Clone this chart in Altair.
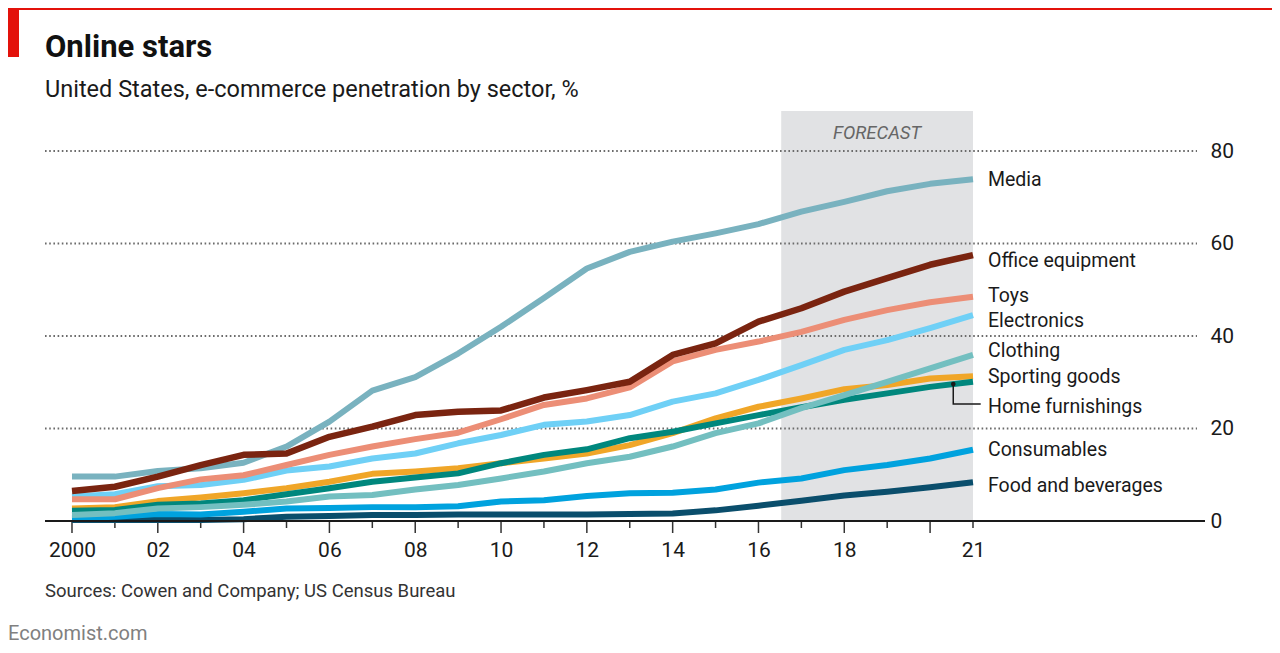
import altair as alt
import pandas as pd

# ---------------- data ----------------
years = list(range(2000, 2022))

media = [9.6, 9.6, 10.8, 11.4, 12.6, 16.1, 21.5, 28.2, 31.1, 36.2, 42.0, 48.2, 54.6, 58.2,
         60.4, 62.2, 64.2, 66.9, 69.0, 71.3, 72.9, 73.9]
office_equipment = [6.5, 7.4, 9.6, 12.1, 14.3, 14.6, 18.2, 20.4, 22.9, 23.6, 23.9, 26.7, 28.3,
                    30.1, 35.9, 38.4, 43.1, 46.0, 49.6, 52.5, 55.4, 57.5]
toys = [4.7, 4.7, 7.1, 9.0, 9.9, 12.1, 14.3, 16.1, 17.7, 19.1, 22.0, 25.1, 26.5, 28.9, 34.5,
        37.0, 38.8, 40.9, 43.5, 45.6, 47.3, 48.5]
electronics = [5.3, 5.8, 7.5, 7.8, 8.9, 10.9, 11.8, 13.5, 14.6, 16.8, 18.6, 20.8, 21.5, 22.9,
               25.8, 27.6, 30.5, 33.7, 37.0, 39.1, 41.7, 44.5]
clothing = [1.3, 1.7, 2.7, 3.0, 3.5, 4.2, 5.3, 5.6, 6.8, 7.8, 9.2, 10.7, 12.5, 13.9, 16.1,
            19.0, 21.1, 24.4, 27.2, 30.1, 33.0, 35.9]
sporting_goods = [2.7, 3.0, 4.3, 5.1, 6.0, 7.1, 8.5, 10.2, 10.7, 11.4, 12.5, 13.5, 14.6, 16.4,
                  19.0, 22.2, 24.7, 26.5, 28.5, 29.4, 30.8, 31.3]
home_furnishings = [2.2, 2.4, 3.5, 3.8, 4.5, 5.8, 7.1, 8.5, 9.4, 10.3, 12.5, 14.3, 15.5, 17.9,
                    19.3, 21.1, 22.9, 24.6, 26.2, 27.6, 29.0, 30.1]
consumables = [0.6, 0.9, 1.5, 1.4, 2.0, 2.7, 2.8, 3.0, 3.0, 3.2, 4.2, 4.5, 5.4, 6.0, 6.1, 6.8,
               8.3, 9.2, 11.0, 12.1, 13.5, 15.4]
food_and_beverages = [0.2, 0.2, 0.2, 0.2, 0.4, 0.9, 1.1, 1.3, 1.3, 1.4, 1.4, 1.4, 1.4, 1.5, 1.6,
                      2.3, 3.3, 4.4, 5.5, 6.3, 7.3, 8.4]

series_names = ["Media", "Office equipment", "Toys", "Electronics", "Clothing",
                "Sporting goods", "Home furnishings", "Consumables", "Food and beverages"]
series_values = [media, office_equipment, toys, electronics, clothing, sporting_goods,
                 home_furnishings, consumables, food_and_beverages]
series_colors = ["#79b2bf", "#7a2410", "#ec8e76", "#6fd0f6", "#73bfc0", "#f0a628",
                 "#00877d", "#00a2de", "#0a4e6c"]
label_y = [72.4, 55.0, 47.4, 41.9, 35.4, 29.9, 23.3, 14.05, 6.35]
draw_order = ["Food and beverages", "Consumables", "Sporting goods", "Home furnishings",
              "Clothing", "Electronics", "Toys", "Media", "Office equipment"]

forecast_start = [2016.53]
forecast_end = [2021]

grid_values = [20, 40, 60, 80]
y_tick_values = [0, 20, 40, 60, 80]

leader_x = [2020.54, 2020.54, 2021.18]
leader_y = [29.6, 25.3, 25.3]

# ---------------- layout ----------------
W, H = 1152, 410
FONT = "Roboto"
x_scale = alt.Scale(domain=[1999.371, 2026.221], nice=False, zero=False)
y_scale = alt.Scale(domain=[0, 88.65], nice=False, zero=False)

x_axis = alt.Axis(values=years, title=None, grid=False, domain=False, ticks=False, tickSize=0,
                  labelFont=FONT, labelFontSize=21, labelColor="#1a1a1a", labelPadding=18,
                  labelOverlap=False, labelFlush=False, labelBound=False,
                  labelExpr="datum.value == 2000 ? '2000' : (datum.value == 2021 ? '21' : ((datum.value % 2 == 0 && datum.value != 2020) ? substring(toString(datum.value), 2) : ''))")
y_axis = alt.Axis(values=y_tick_values, orient="right", title=None, grid=False, domain=False,
                  ticks=False, tickSize=0, labelFont=FONT, labelFontSize=21,
                  labelColor="#1a1a1a", labelPadding=13, labelAlign="left",
                  labelBaseline="middle", labelBound=False, labelFlush=False)


def X(field):
    return alt.X(field, scale=x_scale, axis=x_axis)


def Y(field):
    return alt.Y(field, scale=y_scale, axis=y_axis)


long_rows = []
for name, vals in zip(series_names, series_values):
    for yr, v in zip(years, vals):
        long_rows.append({"year": yr, "value": v, "series": name})
df = pd.DataFrame(long_rows)
color_of = dict(zip(series_names, series_colors))

layers = []

# forecast band
fc_df = pd.DataFrame({"start": forecast_start, "end": forecast_end})
band = alt.Chart(fc_df).mark_rect(color="#e1e2e4").encode(
    x=X("start:Q"), x2="end:Q", y=alt.value(0), y2=alt.value(H))
layers.append(band)

forecast_txt = alt.Chart(fc_df).transform_calculate(
    mid="(datum.start + datum.end) / 2").mark_text(
    text="FORECAST", font=FONT, fontSize=18.5, fontStyle="italic", color="#666666",
    align="center", baseline="alphabetic").encode(x=X("mid:Q"), y=alt.value(28))
layers.append(forecast_txt)

# dotted gridlines
grid = alt.Chart(pd.DataFrame({"v": grid_values})).mark_rule(
    color="#6b6b6b", strokeWidth=2, strokeDash=[1.6, 2.6]).encode(
    y=Y("v:Q"), x=alt.value(0), x2=alt.value(W))
layers.append(grid)

# x ticks (long on even years, short on odd years)
tick_df = pd.DataFrame({"year": years})
ticks_even = alt.Chart(tick_df).transform_filter("datum.year % 2 == 0").mark_rule(
    color="#333333", strokeWidth=1.5).encode(
    x=X("year:Q"), y=alt.value(H), y2=alt.value(H + 12))
ticks_odd = alt.Chart(tick_df).transform_filter("datum.year % 2 == 1").mark_rule(
    color="#333333", strokeWidth=1.5).encode(
    x=X("year:Q"), y=alt.value(H), y2=alt.value(H + 7))
layers += [ticks_even, ticks_odd]

# lines
for name in draw_order:
    ln = alt.Chart(df).transform_filter(alt.datum.series == name).mark_line(
        color=color_of[name], strokeWidth=6.5 if name == "Office equipment" else 6,
        strokeJoin="round", strokeCap="butt").encode(x=X("year:Q"), y=Y("value:Q"))
    layers.append(ln)

# zero baseline
zero = alt.Chart(pd.DataFrame({"v": [0]})).mark_rule(color="#1a1a1a", strokeWidth=2).encode(
    y=Y("v:Q"), x=alt.value(0), x2=alt.value(W + 8))
layers.append(zero)

# leader for Home furnishings
leader_df = pd.DataFrame({"x": leader_x, "y": leader_y, "o": [0, 1, 2]})
leader = alt.Chart(leader_df).mark_line(color="#1a1a1a", strokeWidth=1.5).encode(
    x=X("x:Q"), y=Y("y:Q"), order="o:O")
leader_dot = alt.Chart(leader_df.iloc[[0]]).mark_circle(color="#1a1a1a", size=22, opacity=1).encode(
    x=X("x:Q"), y=Y("y:Q"))
layers += [leader, leader_dot]

# series labels
lab_df = pd.DataFrame({"series": series_names, "ly": label_y, "lx": [years[-1]] * len(series_names)})
labels = alt.Chart(lab_df).mark_text(font=FONT, fontSize=19.5, color="#1a1a1a", align="left",
                                     baseline="alphabetic", dx=15).encode(
    x=X("lx:Q"), y=Y("ly:Q"), text="series:N")
layers.append(labels)

# titles and furniture
one = pd.DataFrame({"k": [0]})
red_line = alt.Chart(one).mark_rect(color="#e3120b").encode(
    x=alt.value(-37), x2=alt.value(1227), y=alt.value(-103), y2=alt.value(-101))
red_block = alt.Chart(one).mark_rect(color="#e3120b").encode(
    x=alt.value(-37), x2=alt.value(-26), y=alt.value(-103), y2=alt.value(-54))
title = alt.Chart(one).mark_text(text="Online stars", font=FONT, fontSize=31, fontWeight="bold",
                                 color="#111111", align="left", baseline="alphabetic").encode(
    x=alt.value(0), y=alt.value(-54))
subtitle = alt.Chart(one).mark_text(text="United States, e-commerce penetration by sector, %",
                                    font=FONT, fontSize=23.5, color="#1a1a1a", align="left",
                                    baseline="alphabetic").encode(
    x=alt.value(0), y=alt.value(-14))
source = alt.Chart(one).mark_text(text="Sources: Cowen and Company; US Census Bureau",
                                  font=FONT, fontSize=18.5, color="#333333", align="left",
                                  baseline="alphabetic").encode(
    x=alt.value(0), y=alt.value(486))
brand = alt.Chart(one).mark_text(text="Economist.com", font=FONT, fontSize=20, color="#808080",
                                 align="left", baseline="alphabetic").encode(
    x=alt.value(-37), y=alt.value(529))
layers += [red_line, red_block, title, subtitle, source, brand]

chart = alt.layer(*layers).properties(
    width=W, height=H,
    padding={"left": 37, "top": 103, "right": 75, "bottom": 124},
    autosize=alt.AutoSizeParams(type="none"),
    background="white",
).configure_view(stroke=None)

chart.save("out.html", embed_options={"renderer": "svg", "actions": False})
